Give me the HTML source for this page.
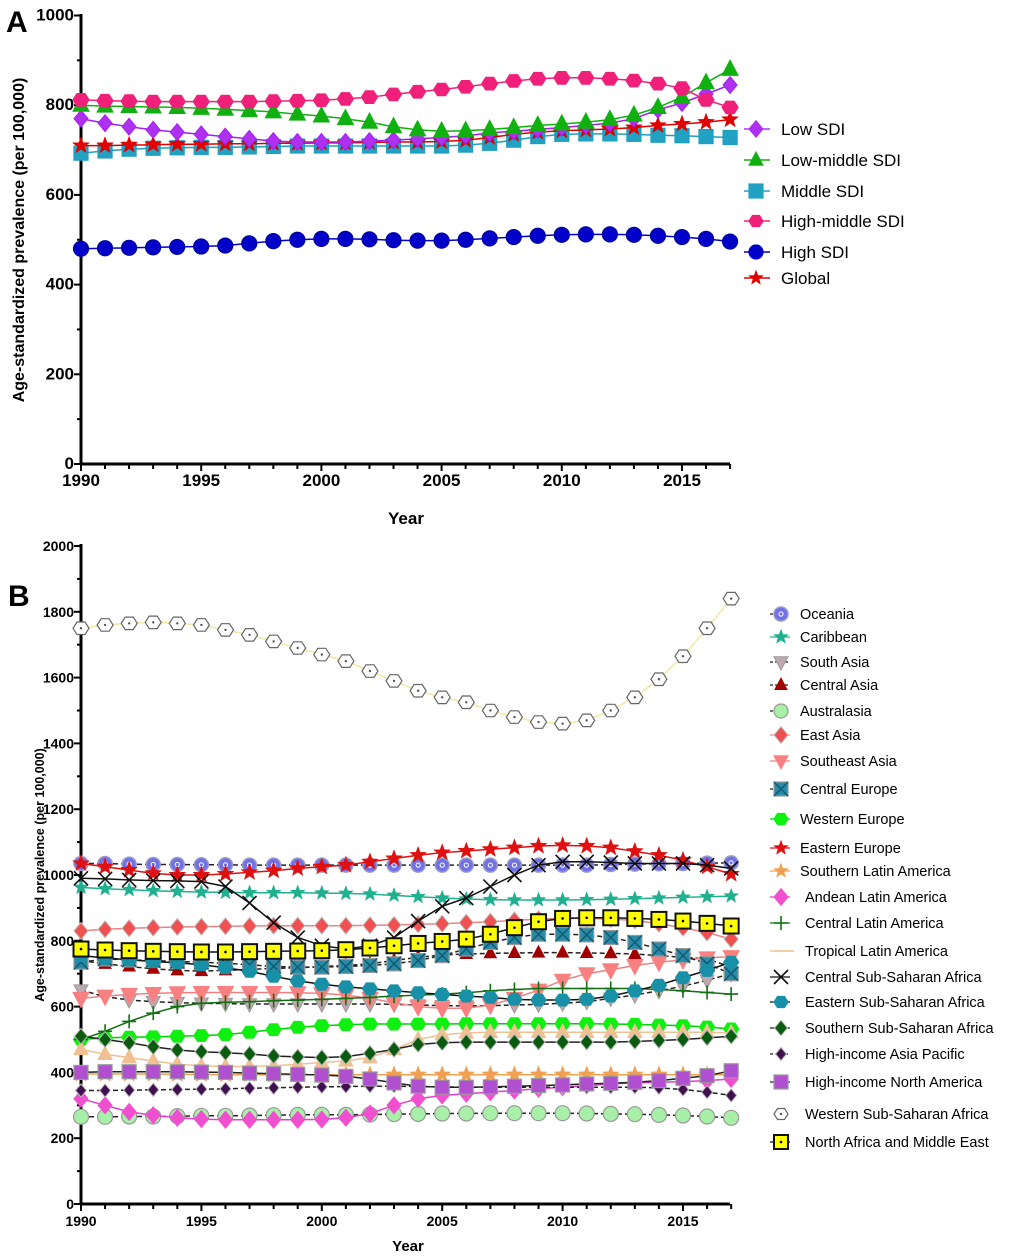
<!DOCTYPE html>
<html><head><meta charset="utf-8">
<style>
body{margin:0;background:#fff;}
svg{display:block;font-family:"Liberation Sans",Arial,sans-serif;}
.tick{font-family:"Liberation Sans Narrow","Liberation Sans",Arial,sans-serif;}
</style></head>
<body>
<svg id="chart" width="1020" height="1259" viewBox="0 0 1020 1259" xmlns="http://www.w3.org/2000/svg">
<rect width="1020" height="1259" fill="#fff"/>
<g id="gA"></g>
<g id="gB"></g>
</svg>
<script>
const years = [1990,1991,1992,1993,1994,1995,1996,1997,1998,1999,2000,2001,2002,2003,2004,2005,2006,2007,2008,2009,2010,2011,2012,2013,2014,2015,2016,2017];
const xTickLabels = [1990,1995,2000,2005,2010,2015];
const yTicksA = [0,200,400,600,800,1000];
const yTicksB = [0,200,400,600,800,1000,1200,1400,1600,1800,2000];

const namesA = ["Low SDI","Low-middle SDI","Middle SDI","High-middle SDI","High SDI","Global"];
const lowSDI = [770,760,752,745,740,735,730,725,720,718,718,718,720,722,725,728,732,738,742,746,750,755,760,770,790,805,825,845];
const lowMidSDI = [800,798,797,796,795,793,791,788,785,780,776,770,762,752,745,742,743,746,750,755,758,762,768,778,795,818,850,880];
const midSDI = [693,698,702,704,705,706,706,707,708,709,709,709,709,709,709,709,711,715,722,730,735,736,736,735,733,732,730,728];
const highMidSDI = [812,810,809,808,808,808,808,808,809,810,811,814,818,824,830,835,841,848,854,859,861,861,859,855,848,838,812,795];
const highSDI = [480,481,482,483,484,485,487,492,497,500,502,502,501,499,498,498,500,503,506,509,511,512,512,511,509,506,502,496];
const globalA = [710,710,711,712,713,713,714,714,715,715,716,716,717,718,718,719,722,728,735,740,743,745,747,750,755,758,762,768];

const namesB = ["Oceania","Caribbean","South Asia","Central Asia","Australasia","East Asia","Southeast Asia","Central Europe","Western Europe","Eastern Europe","Southern Latin America","Andean Latin America","Central Latin America","Tropical Latin America","Central Sub-Saharan Africa","Eastern Sub-Saharan Africa","Southern Sub-Saharan Africa","High-income Asia Pacific","High-income North America","Western Sub-Saharan Africa","North Africa and Middle East"];
const oceania = [1035,1035,1033,1032,1032,1031,1031,1030,1030,1030,1030,1030,1030,1030,1030,1030,1030,1030,1030,1030,1030,1030,1032,1033,1034,1035,1036,1037];
const caribbean = [962,958,955,952,950,948,947,946,946,946,945,944,942,938,934,930,927,925,924,924,924,925,926,928,930,932,934,936];
const southAsia = [650,630,620,615,612,610,609,608,608,608,608,608,608,607,605,603,602,603,605,607,610,615,625,635,648,662,680,700];
const centralAsia = [740,730,722,715,710,708,710,713,716,718,722,725,730,740,750,757,760,762,763,764,764,763,762,760,755,750,745,720];
const australasia = [265,265,266,266,267,268,268,269,270,271,271,271,272,273,274,275,275,276,276,276,276,275,274,273,271,269,266,262];
const eastAsia = [830,835,838,840,842,843,844,845,846,846,846,846,847,848,850,852,855,858,862,866,868,868,866,862,852,840,825,805];
const southeastAsia = [625,632,637,640,642,643,643,643,643,642,640,635,625,612,600,595,595,605,625,650,680,700,712,725,735,742,748,752];
const centralEurope = [735,745,742,740,737,735,732,727,722,720,720,722,725,730,740,755,775,795,810,820,820,818,810,795,775,755,730,700];
const westernEurope = [500,505,507,508,510,512,515,522,530,537,542,545,547,547,547,547,548,548,548,548,548,548,547,546,544,542,538,532];
const easternEurope = [1035,1025,1015,1005,1000,1000,1003,1008,1013,1020,1025,1030,1040,1050,1060,1068,1073,1078,1083,1088,1090,1088,1083,1072,1060,1045,1025,1003];
const southernLatAm = [395,395,395,395,394,394,393,393,393,393,393,393,393,393,393,393,393,393,393,393,393,393,393,393,393,393,393,393];
const andeanLatAm = [320,300,280,270,262,258,256,256,256,256,257,262,275,300,320,330,335,340,345,350,355,360,365,368,370,372,375,380];
const centralLatAm = [500,525,555,580,600,610,613,615,618,620,622,625,628,632,635,638,642,648,652,655,655,655,655,655,652,648,643,638];
const tropicalLatAm = [470,455,445,435,425,420,418,418,420,425,430,435,445,470,500,515,520,522,522,522,522,522,522,522,522,522,522,520];
const centralSSA = [990,988,985,983,982,980,965,915,855,810,785,775,785,810,860,905,930,965,1000,1030,1040,1040,1038,1035,1035,1035,1030,1020];
const easternSSA = [755,748,742,737,733,727,718,707,692,678,668,660,654,648,642,637,632,628,622,620,620,622,632,648,665,688,710,735];
const southernSSA = [510,500,490,478,468,463,460,456,450,447,445,448,458,470,485,490,492,492,492,492,492,492,492,494,497,500,505,510];
const hiAsiaPacific = [345,345,346,347,348,349,350,352,353,355,356,357,358,358,357,356,355,355,355,355,355,355,355,355,353,348,340,330];
const hiNorthAmerica = [400,402,402,402,402,401,400,398,396,394,392,388,380,368,358,355,355,356,358,360,362,365,367,370,375,382,390,405];
const westernSSA = [1750,1760,1765,1768,1765,1760,1745,1730,1710,1690,1670,1650,1620,1590,1560,1540,1525,1500,1480,1465,1460,1470,1500,1540,1595,1665,1750,1840];
const northAfricaME = [775,772,770,768,767,766,766,767,768,769,770,773,778,785,792,798,805,820,840,858,868,870,870,868,865,860,853,845];

const NS = "http://www.w3.org/2000/svg";
function mk(tag, attrs, parent){const e=document.createElementNS(NS,tag);for(const k in attrs)e.setAttribute(k,attrs[k]);parent.appendChild(e);return e;}

function drawMarker(g, type, cx, cy, s, fill, stroke){
  let e;
  if(type==="circle"){e=mk("circle",{cx,cy,r:s,fill,stroke,"stroke-width":1.2},g);}
  else if(type==="circledot"){e=mk("circle",{cx,cy,r:s,fill,stroke,"stroke-width":1.5},g);mk("circle",{cx,cy,r:s*0.3,fill:"none",stroke:"#fff","stroke-width":1},g);}
  else if(type==="square"){e=mk("rect",{x:cx-s,y:cy-s,width:2*s,height:2*s,fill,stroke,"stroke-width":1.2},g);}
  else if(type==="squaredot"){e=mk("rect",{x:cx-s,y:cy-s,width:2*s,height:2*s,fill,stroke,"stroke-width":2},g);mk("circle",{cx,cy,r:1.3,fill:"#000"},g);}
  else if(type==="squarex"){e=mk("rect",{x:cx-s,y:cy-s,width:2*s,height:2*s,fill,stroke:"#999","stroke-width":1.2},g);mk("path",{d:`M${cx-s} ${cy-s}L${cx+s} ${cy+s}M${cx+s} ${cy-s}L${cx-s} ${cy+s}`,stroke:"#0d5d70","stroke-width":1.5},g);}
  else if(type==="diamond"){e=mk("polygon",{points:`${cx},${cy-s*1.2} ${cx+s},${cy} ${cx},${cy+s*1.2} ${cx-s},${cy}`,fill,stroke,"stroke-width":1},g);}
  else if(type==="tri"){e=mk("polygon",{points:`${cx},${cy-s*1.15} ${cx+s},${cy+s*0.75} ${cx-s},${cy+s*0.75}`,fill,stroke,"stroke-width":1},g);}
  else if(type==="tridown"){e=mk("polygon",{points:`${cx},${cy+s*1.15} ${cx+s},${cy-s*0.75} ${cx-s},${cy-s*0.75}`,fill,stroke,"stroke-width":1},g);}
  else if(type==="hex"){let p=[];for(let i=0;i<6;i++){const a=Math.PI/3*i;p.push((cx+s*Math.cos(a)).toFixed(1)+","+(cy+s*0.9*Math.sin(a)).toFixed(1));}e=mk("polygon",{points:p.join(" "),fill,stroke,"stroke-width":1.2},g);}
  else if(type==="hexdot"){let p=[];for(let i=0;i<6;i++){const a=Math.PI/3*i;p.push((cx+s*Math.cos(a)).toFixed(1)+","+(cy+s*0.9*Math.sin(a)).toFixed(1));}e=mk("polygon",{points:p.join(" "),fill,stroke,"stroke-width":1.2},g);mk("circle",{cx,cy,r:1.2,fill:"#555"},g);}
  else if(type==="star"){let p=[];for(let i=0;i<10;i++){const r=i%2?s*0.45:s*1.1;const a=-Math.PI/2+Math.PI/5*i;p.push((cx+r*Math.cos(a)).toFixed(1)+","+(cy+r*Math.sin(a)).toFixed(1));}e=mk("polygon",{points:p.join(" "),fill,stroke:fill,"stroke-width":0.5},g);}
  else if(type==="plus"){e=mk("path",{d:`M${cx-s} ${cy}L${cx+s} ${cy}M${cx} ${cy-s}L${cx} ${cy+s}`,stroke:fill,"stroke-width":1.6,fill:"none"},g);}
  else if(type==="x"){e=mk("path",{d:`M${cx-s} ${cy-s}L${cx+s} ${cy+s}M${cx+s} ${cy-s}L${cx-s} ${cy+s}`,stroke:fill,"stroke-width":1.6,fill:"none"},g);}
  else if(type==="none"){e=null;}
  return e;
}

function axes(g, L, R, T, B, xs, ys, yTicks, minorStep, fs, ymaxv){
  mk("line",{x1:L,y1:T-2,x2:L,y2:B,stroke:"#000","stroke-width":3},g);
  mk("line",{x1:L-1,y1:B,x2:R,y2:B,stroke:"#000","stroke-width":3},g);
  years.forEach(y=>{const big=xTickLabels.includes(y);mk("line",{x1:xs(y),y1:B,x2:xs(y),y2:B+(big?7:5),stroke:"#000","stroke-width":2},g);});
  xTickLabels.forEach(y=>{const t=mk("text",{x:xs(y),y:B+22,"text-anchor":"middle","font-size":fs,"font-weight":"bold","class":"tick"},g);t.textContent=y;
    
    });
  for(let v=0;v<=ymaxv;v+=minorStep){mk("line",{x1:L-(v%200===0?7:4),y1:ys(v),x2:L,y2:ys(v),stroke:"#000","stroke-width":2},g);}
  yTicks.forEach(v=>{const t=mk("text",{x:L-7,y:ys(v)+5,"text-anchor":"end","font-size":fs,"font-weight":"bold","class":"tick"},g);t.textContent=v;
    
    });
}

function series(g, vals, xs, ys, color, mtype, s, fill, stroke, dashed){
  const sg=mk("g",{},g);
  const pts=vals.map((v,i)=>xs(years[i]).toFixed(1)+","+ys(v).toFixed(1)).join(" ");
  mk("polyline",{points:pts,fill:"none",stroke:color,"stroke-width":1.5,"stroke-dasharray":dashed?"5,3":"none"},sg);
  vals.forEach((v,i)=>drawMarker(sg,mtype,xs(years[i]),ys(v),s,fill,stroke));
  return sg;
}

// Panel A
const gA=document.getElementById("gA");
const xA=y=>81+(y-1990)*24.04;
const yA=v=>464-v*0.4485;
axes(gA,81,730,16,464,xA,yA,yTicksA,100,17,1000);
const tA=mk("text",{x:6,y:32,"font-size":30,"font-weight":"bold"},gA);tA.textContent="A";


const yt=mk("text",{x:0,y:0,"font-size":16,"font-weight":"bold","text-anchor":"middle",transform:"translate(24,240) rotate(-90)"},gA);yt.textContent="Age-standardized prevalence (per 100,000)";


const xt=mk("text",{x:406,y:524,"font-size":17,"font-weight":"bold","text-anchor":"middle","class":"tick"},gA);xt.textContent="Year";



const specA=[
 [highSDI,"#0000c8","circle",7.5,"#0000c8","#0000a0"],
 [midSDI,"#1e9fbf","square",7,"#22a2c2","#1e9fbf"],
 [globalA,"#e00000","star",8,"#e00000","#e00000"],
 [lowSDI,"#a020f0","diamond",7,"#b030f0","#a020f0"],
 [lowMidSDI,"#10b010","tri",8,"#10b010","#10b010"],
 [highMidSDI,"#f0207a","hex",8,"#f0207a","#f0207a"]];
const seriesKeysA=["high-sdi","middle-sdi","global","low-sdi","low-middle-sdi","high-middle-sdi"];
specA.forEach((sp,i)=>{const sg=series(gA,sp[0],xA,yA,sp[1],sp[2],sp[3],sp[4],sp[5],false);
  
  });
const legA=[["diamond","#b030f0"],["tri","#10b010"],["square","#22a2c2"],["hex","#f0207a"],["circle","#0000c8"],["star","#e00000"]];
const legAy=[129,160,191,221,252,278];
namesA.forEach((n,i)=>{const lg=mk("g",{},gA);
  
  
  mk("line",{x1:744,y1:legAy[i],x2:770,y2:legAy[i],stroke:legA[i][1],"stroke-width":1.5},lg);
  drawMarker(lg,legA[i][0],756,legAy[i],7,legA[i][1],legA[i][1]);
  const t=mk("text",{x:781,y:legAy[i]+6,"font-size":17},lg);t.textContent=n;});

// Panel B
const gB=document.getElementById("gB");
const xB=y=>81+(y-1990)*24.08;
const yB=v=>1204-v*0.329;
axes(gB,81,730,546,1204,xB,yB,yTicksB,100,14,2000);
const tB=mk("text",{x:8,y:606,"font-size":30,"font-weight":"bold"},gB);tB.textContent="B";


const ytB=mk("text",{x:0,y:0,"font-size":12.5,"font-weight":"bold","text-anchor":"middle",transform:"translate(44,875) rotate(-90)"},gB);ytB.textContent="Age-standardized prevalence (per 100,000)";


const xtB=mk("text",{x:408,y:1251,"font-size":15,"font-weight":"bold","text-anchor":"middle","class":"tick"},gB);xtB.textContent="Year";



const specB=[
 [oceania,"#222","circledot",7,"#7070e8","#9a9ac8",true],
 [caribbean,"#20b090","star",7,"#20b090","#20b090",false],
 [southAsia,"#222","tridown",7,"#c0a8b0","#999",true],
 [centralAsia,"#222","tri",6,"#a00000","#a00000",true],
 [australasia,"#222","circle",7.5,"#a8f0a8","#999",true],
 [eastAsia,"#f08080","diamond",7,"#f05050","#bbb",false],
 [southeastAsia,"#f08080","tridown",8,"#f88080","#f88080",false],
 [centralEurope,"#222","squarex",7,"#2a8aa8","#999",true],
 [westernEurope,"#00d000","hex",7.5,"#10f010","#10f010",false],
 [easternEurope,"#e01010","star",8,"#e01010","#e01010",false],
 [southernLatAm,"#f0a050","star",8,"#f0a050","#f0a050",false],
 [andeanLatAm,"#e040c8","diamond",7,"#f050d0","#f050d0",false],
 [centralLatAm,"#107010","plus",7,"#107010","#107010",false],
 [tropicalLatAm,"#f0c090","tri",7,"#f0c090","#f0c090",false],
 [centralSSA,"#111","x",7,"#111","#111",false],
 [easternSSA,"#111","hex",7.5,"#1890a8","#1890a8",false],
 [southernSSA,"#222","diamond",6.5,"#0a5a10","#bbb",false],
 [hiAsiaPacific,"#222","diamond",5.5,"#401050","#bbb",true],
 [hiNorthAmerica,"#222","square",7,"#b050d0","#999",false],
 [westernSSA,"#f0e8a0","hexdot",8,"#fff","#666",false],
 [northAfricaME,"#111","squaredot",7.5,"#ffff00","#111",false]];
const seriesKeysB=namesB.map(n=>n.toLowerCase().replace(/ /g,'-'));
specB.forEach((sp,i)=>{const sg=series(gB,sp[0],xB,yB,sp[1],sp[2],sp[3],sp[4],sp[5],sp[6]);
  
  });
const legBy=[614,637,662,685,711,735,761,789,819,848,871,897,923,951,977,1002,1028,1054,1082,1114,1142];
namesB.forEach((n,i)=>{const sp=specB[i];const lg=mk("g",{},gB);
  
  
  const ly=legBy[i];
  mk("line",{x1:770,y1:ly,x2:790,y2:ly,stroke:sp[1]==="#f0e8a0"?"none":sp[1],"stroke-width":1.2,"stroke-dasharray":sp[6]?"3,2":"none"},lg);
  if(i===13){mk("line",{x1:774,y1:ly,x2:794,y2:ly,stroke:"#f0c090","stroke-width":1.5},lg);}
  else drawMarker(lg,sp[2],781,ly,Math.min(sp[3],7),sp[4],sp[5]);
  const t=mk("text",{x:i>10?805:800,y:ly+5,"font-size":14.5},lg);t.textContent=n;});
</script>
</body></html>
